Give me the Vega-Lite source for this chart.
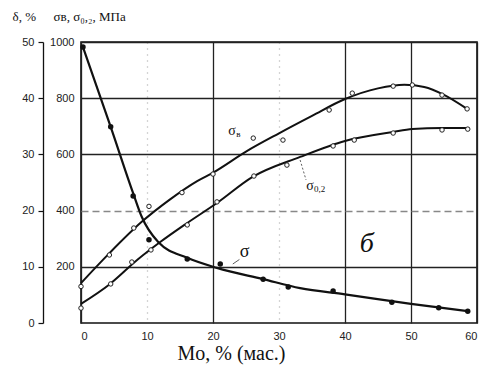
{
  "$schema": "https://vega.github.io/schema/vega-lite/v6.json",
  "width": 396,
  "height": 281,
  "autosize": {"type": "none"},
  "padding": {"left": 81, "top": 42, "right": 9, "bottom": 44},
  "background": "white",
  "config": {
    "view": {"stroke": "#111", "strokeWidth": 1.6},
    "axis": {"labelFont": "Liberation Sans", "labelFontSize": 11, "labelColor": "#222", "titleColor": "#111"}
  },
  "datasets": {
    "sv_curve": [
      {"x": 0, "s": 142}, {"x": 4.2, "s": 246}, {"x": 9.2, "s": 360}, {"x": 13.5, "s": 440},
      {"x": 17.6, "s": 505}, {"x": 20, "s": 535}, {"x": 25, "s": 610}, {"x": 30, "s": 675},
      {"x": 35, "s": 737}, {"x": 40, "s": 797}, {"x": 45, "s": 835}, {"x": 49, "s": 848},
      {"x": 52, "s": 840}, {"x": 55, "s": 812}, {"x": 58.5, "s": 762}
    ],
    "sv_pts": [
      {"x": 0, "s": 130}, {"x": 4.3, "s": 242}, {"x": 8.0, "s": 338}, {"x": 10.3, "s": 415},
      {"x": 15.3, "s": 464}, {"x": 20, "s": 530}, {"x": 26.1, "s": 658}, {"x": 30.6, "s": 651},
      {"x": 37.6, "s": 758}, {"x": 41.1, "s": 818}, {"x": 47.3, "s": 843}, {"x": 50.2, "s": 847},
      {"x": 54.7, "s": 811}, {"x": 58.5, "s": 762}
    ],
    "s02_curve": [
      {"x": 0, "s": 68}, {"x": 4.4, "s": 139}, {"x": 8.5, "s": 224}, {"x": 12, "s": 288},
      {"x": 16.1, "s": 356}, {"x": 20.6, "s": 427}, {"x": 26, "s": 520}, {"x": 33.2, "s": 591},
      {"x": 40, "s": 648}, {"x": 47.3, "s": 680}, {"x": 50.2, "s": 690}, {"x": 54.7, "s": 694},
      {"x": 58.6, "s": 694}
    ],
    "s02_pts": [
      {"x": 0, "s": 53}, {"x": 4.5, "s": 139}, {"x": 7.7, "s": 217}, {"x": 10.6, "s": 260},
      {"x": 16.1, "s": 349}, {"x": 20.6, "s": 431}, {"x": 26.2, "s": 523}, {"x": 31.2, "s": 562},
      {"x": 38.2, "s": 630}, {"x": 41.4, "s": 651}, {"x": 47.3, "s": 676}, {"x": 54.7, "s": 687},
      {"x": 58.6, "s": 690}
    ],
    "d_curve": [
      {"x": 0.3, "d": 49.1}, {"x": 4.5, "d": 34.9}, {"x": 7.9, "d": 23.1}, {"x": 9.2, "d": 18.9},
      {"x": 11.7, "d": 14.4}, {"x": 16.1, "d": 11.6}, {"x": 20.6, "d": 9.8}, {"x": 27.6, "d": 7.8},
      {"x": 33.2, "d": 6.2}, {"x": 40, "d": 5.1}, {"x": 50, "d": 3.4}, {"x": 58.6, "d": 2.1}
    ],
    "d_pts": [
      {"x": 0.3, "d": 49.1}, {"x": 4.5, "d": 34.9}, {"x": 7.9, "d": 22.6}, {"x": 10.3, "d": 14.8},
      {"x": 16.1, "d": 11.4}, {"x": 21.1, "d": 10.5}, {"x": 27.6, "d": 7.8}, {"x": 31.4, "d": 6.4},
      {"x": 38.2, "d": 5.7}, {"x": 47.1, "d": 3.7}, {"x": 54.2, "d": 2.7}, {"x": 58.6, "d": 2.1}
    ],
    "s_labels": [
      {"x": 22.9, "s": 669, "t": "σ", "sub": "в"},
      {"x": 34.7, "s": 473, "t": "σ", "sub": "0,2"}
    ],
    "s_leader": [{"x": 33.2, "s": 580, "x2": 34.1, "s2": 509}],
    "b_label": [{"x": 43.3, "s": 253, "t": "б"}],
    "d_labels": [{"x": 24.8, "d": 11.7, "t": "σ"}],
    "d_leader": [{"x": 23.0, "d": 10.5, "x2": 24.0, "d2": 11.3}]
  },
  "encoding": {
    "x": {
      "field": "x", "type": "quantitative",
      "scale": {"domain": [0, 60], "nice": false, "zero": false},
      "axis": {
        "values": [0, 10, 20, 30, 40, 50, 60],
        "format": "d",
        "domain": false,
        "ticks": false,
        "labelPadding": 7,
        "grid": true,
        "gridColor": {"condition": {"test": "datum.value === 10 || datum.value === 30", "value": "#aaa"}, "value": "#222"},
        "gridDash": {"condition": {"test": "datum.value === 10 || datum.value === 30", "value": [1, 5]}, "value": []},
        "gridWidth": 1.3,
        "title": "Mo, % (мас.)",
        "titleFont": "Liberation Serif",
        "titleFontSize": 20,
        "titleFontWeight": "normal",
        "titleX": 150,
        "titleY": 36,
        "titleAlign": "center",
        "titleBaseline": "alphabetic"
      }
    }
  },
  "layer": [
    {
      "encoding": {
        "y": {
          "field": "s", "type": "quantitative",
          "scale": {"domain": [0, 1000], "nice": false},
          "axis": {
            "orient": "left",
            "values": [200, 400, 600, 800, 1000],
            "format": "d",
            "domain": false,
            "ticks": false,
            "labelPadding": 7,
            "grid": true,
            "gridColor": {"condition": {"test": "datum.value === 400", "value": "#888"}, "value": "#222"},
            "gridDash": {"condition": {"test": "datum.value === 400", "value": [7, 4]}, "value": []},
            "gridWidth": 1.3,
            "title": "σв, σ₀,₂, МПа",
            "titleFont": "Liberation Serif",
            "titleFontSize": 13,
            "titleFontWeight": "normal",
            "titleAngle": 0,
            "titleAlign": "left",
            "titleBaseline": "alphabetic",
            "titleX": -28,
            "titleY": -22
          }
        }
      },
      "layer": [
        {"data": {"name": "sv_curve"}, "mark": {"type": "line", "interpolate": "monotone", "color": "#111", "strokeWidth": 2}},
        {"data": {"name": "s02_curve"}, "mark": {"type": "line", "interpolate": "monotone", "color": "#111", "strokeWidth": 2}},
        {"data": {"name": "sv_pts"}, "mark": {"type": "point", "shape": "circle", "size": 20, "filled": false, "fill": "white", "stroke": "#222", "strokeWidth": 1, "opacity": 1}},
        {"data": {"name": "s02_pts"}, "mark": {"type": "point", "shape": "circle", "size": 20, "filled": false, "fill": "white", "stroke": "#222", "strokeWidth": 1, "opacity": 1}},
        {"data": {"name": "s_leader"}, "mark": {"type": "rule", "color": "#333", "strokeWidth": 0.8, "strokeDash": [2, 2]},
         "encoding": {"x2": {"field": "x2"}, "y2": {"field": "s2"}}},
        {"data": {"name": "s_labels"}, "mark": {"type": "text", "font": "Liberation Serif", "fontSize": 14, "align": "center", "baseline": "alphabetic", "color": "#111"},
         "encoding": {"text": {"field": "t"}}},
        {"data": {"name": "s_labels"}, "mark": {"type": "text", "font": "Liberation Serif", "fontSize": 9, "align": "left", "baseline": "alphabetic", "dx": 4, "dy": 2, "color": "#111"},
         "encoding": {"text": {"field": "sub"}}},
        {"data": {"name": "b_label"}, "mark": {"type": "text", "font": "Liberation Serif", "fontSize": 28, "fontStyle": "italic", "align": "center", "baseline": "alphabetic", "color": "#111"},
         "encoding": {"text": {"field": "t"}}}
      ]
    },
    {
      "encoding": {
        "y": {
          "field": "d", "type": "quantitative",
          "scale": {"domain": [0, 50], "nice": false},
          "axis": {
            "orient": "left",
            "offset": 38,
            "values": [0, 10, 20, 30, 40, 50],
            "format": "d",
            "grid": false,
            "domainColor": "#111",
            "domainWidth": 1.3,
            "tickColor": "#111",
            "tickSize": 5,
            "tickWidth": 1.2,
            "labelPadding": 4,
            "title": "δ, %",
            "titleFont": "Liberation Serif",
            "titleFontSize": 13,
            "titleFontWeight": "normal",
            "titleAngle": 0,
            "titleAlign": "left",
            "titleBaseline": "alphabetic",
            "titleX": -31,
            "titleY": -22
          }
        }
      },
      "layer": [
        {"data": {"name": "d_curve"}, "mark": {"type": "line", "interpolate": "monotone", "color": "#111", "strokeWidth": 2.2}},
        {"data": {"name": "d_pts"}, "mark": {"type": "point", "shape": "circle", "size": 30, "filled": true, "color": "#111", "opacity": 1}},
        {"data": {"name": "d_leader"}, "mark": {"type": "rule", "color": "#333", "strokeWidth": 0.8},
         "encoding": {"x2": {"field": "x2"}, "y2": {"field": "d2"}}},
        {"data": {"name": "d_labels"}, "mark": {"type": "text", "font": "Liberation Serif", "fontSize": 18, "align": "center", "baseline": "alphabetic", "color": "#111"},
         "encoding": {"text": {"field": "t"}}}
      ]
    }
  ],
  "resolve": {"scale": {"y": "independent"}}
}
